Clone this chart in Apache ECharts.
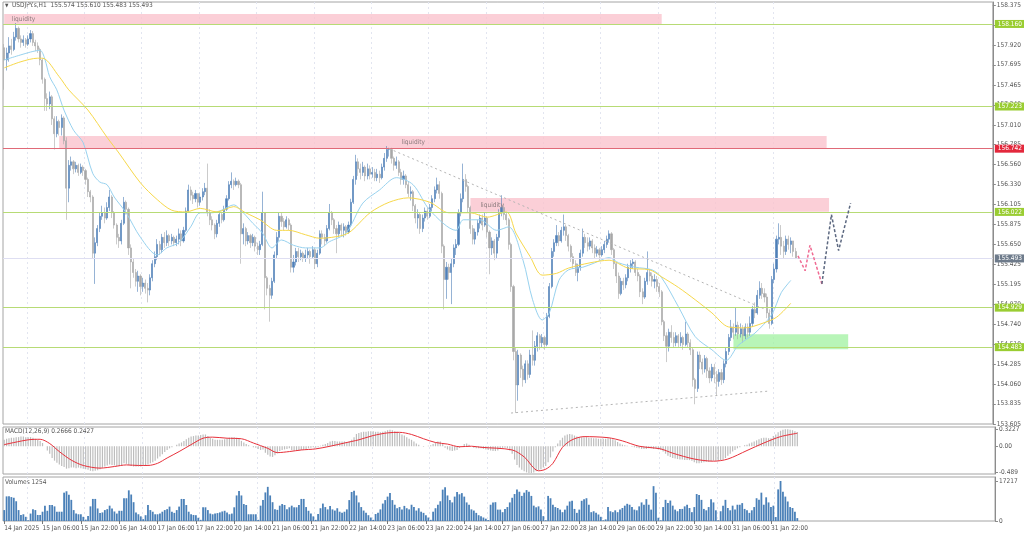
<!DOCTYPE html>
<html><head><meta charset="utf-8">
<script src="https://cdn.jsdelivr.net/npm/echarts@6/dist/echarts.min.js"></script>
<style>html,body{margin:0;padding:0;background:#fff}#c{width:1024px;height:537px}</style>
</head><body><div id="c"></div>
<script>
const timeLabels = ['14 Jan 2025','15 Jan 06:00','15 Jan 22:00','16 Jan 14:00','17 Jan 06:00','17 Jan 22:00','20 Jan 14:00','21 Jan 06:00','21 Jan 22:00','22 Jan 14:00','23 Jan 06:00','23 Jan 22:00','24 Jan 14:00','27 Jan 06:00','27 Jan 22:00','28 Jan 14:00','29 Jan 06:00','29 Jan 22:00','30 Jan 14:00','31 Jan 06:00','31 Jan 22:00'];
const priceTicks = [153.605,153.835,154.060,154.285,154.510,154.740,154.970,155.195,155.425,155.650,155.875,156.105,156.330,156.560,156.785,157.010,157.240,157.465,157.695,157.920,158.150,158.375];
const macdTicks = [0.3227, 0, -0.489];
const macdTickText = ['0.3227','0.00','-0.489'];
const volumeTicks = [0, 17217];

const firstOpen = 157.89;
const closes = [157.75,157.83,157.91,157.87,158.01,158.11,157.99,157.95,157.98,157.93,
157.99,158.05,157.95,157.91,157.87,157.75,157.53,157.31,157.25,157.33,
157.08,156.91,157.05,156.98,157.09,156.83,156.29,156.55,156.59,156.51,
156.55,156.47,156.53,156.49,156.39,156.25,156.19,155.55,155.67,155.83,
155.97,156.01,155.95,156.07,156.19,156.01,155.87,155.73,155.69,155.89,
156.13,156.05,155.61,155.45,155.33,155.23,155.29,155.17,155.21,155.15,
155.13,155.27,155.43,155.51,155.65,155.59,155.73,155.67,155.75,155.69,
155.73,155.67,155.71,155.77,155.69,155.81,156.03,156.27,156.21,156.17,
156.23,156.13,156.19,156.25,156.29,156.01,155.93,155.87,155.77,155.89,
155.99,155.93,156.05,156.17,156.33,156.37,156.33,156.37,156.33,155.77,
155.83,155.69,155.75,155.67,155.73,155.63,155.59,155.65,156.01,155.27,
155.15,155.07,155.23,155.53,155.73,155.97,155.91,155.85,155.93,155.87,
155.39,155.45,155.57,155.51,155.55,155.49,155.53,155.57,155.51,155.59,
155.43,155.55,155.77,155.73,155.69,155.83,156.01,155.93,155.83,155.77,
155.87,155.81,155.85,155.79,155.87,156.13,156.39,156.59,156.51,156.47,
156.53,156.43,156.51,156.45,156.47,156.41,156.45,156.41,156.53,156.63,
156.73,156.73,156.63,156.55,156.59,156.47,156.39,156.43,156.33,156.23,
156.25,156.09,155.95,155.99,155.83,155.95,156.03,155.97,156.07,156.17,
156.27,156.33,156.23,155.63,155.25,155.39,155.33,155.43,155.61,155.65,
156.01,156.17,156.39,156.31,156.07,155.83,155.71,155.79,155.89,155.95,
155.87,155.95,155.79,155.61,155.69,155.55,155.73,156.01,156.07,155.99,
155.93,155.65,155.17,154.43,154.05,154.39,154.23,154.11,154.29,154.17,
154.39,154.33,154.49,154.61,154.53,154.59,154.51,154.83,155.17,155.57,
155.67,155.75,155.69,155.81,155.85,155.75,155.63,155.51,155.43,155.33,
155.39,155.55,155.73,155.67,155.63,155.69,155.61,155.55,155.59,155.53,
155.59,155.65,155.71,155.77,155.59,155.43,155.29,155.09,155.23,155.19,
155.27,155.39,155.43,155.45,155.33,155.29,155.11,155.05,155.23,155.33,
155.29,155.23,155.25,155.17,155.11,154.77,154.61,154.49,154.65,154.59,
154.53,154.61,154.53,154.59,154.51,154.63,154.53,154.45,154.11,154.01,
154.39,154.31,154.23,154.35,154.21,154.13,154.25,154.17,154.09,154.19,
154.11,154.29,154.43,154.59,154.71,154.65,154.73,154.63,154.69,154.61,
154.71,154.65,154.75,154.91,154.87,155.07,155.15,155.09,155.05,154.87,
154.75,155.25,155.37,155.71,155.73,155.63,155.57,155.71,155.65,155.69,
155.57,155.493];
const highs = [157.93,157.89,158.01,157.99,158.07,158.17,158.13,158.03,158.03,158.00,
158.03,158.09,158.08,157.98,157.95,157.89,157.77,157.55,157.37,157.39,
157.35,157.11,157.11,157.07,157.13,157.11,156.87,156.61,156.65,156.61,
156.59,156.57,156.57,156.55,156.51,156.41,156.27,156.21,155.73,155.87,
156.01,156.09,156.07,156.13,156.27,156.21,156.03,155.89,155.77,155.93,
156.19,156.15,156.07,155.65,155.49,155.37,155.35,155.31,155.27,155.25,
155.21,155.31,155.47,155.57,155.71,155.69,155.77,155.79,155.81,155.77,
155.77,155.75,155.75,155.83,155.81,155.85,156.07,156.33,156.31,156.25,
156.27,156.23,156.23,156.29,156.35,156.57,156.05,155.97,155.89,155.93,
156.03,156.01,156.09,156.21,156.37,156.47,156.39,156.41,156.39,156.35,
155.89,155.85,155.79,155.77,155.77,155.75,155.67,155.69,156.25,156.01,
155.29,155.19,155.27,155.57,155.79,156.01,156.01,155.95,155.97,155.95,
155.89,155.53,155.61,155.61,155.59,155.57,155.59,155.61,155.59,155.63,
155.61,155.59,155.81,155.81,155.77,155.87,156.11,156.03,155.95,155.87,
155.91,155.89,155.89,155.87,155.91,156.17,156.43,156.67,156.63,156.57,
156.59,156.55,156.57,156.55,156.53,156.51,156.51,156.49,156.57,156.69,
156.77,156.75,156.75,156.65,156.65,156.61,156.51,156.49,156.45,156.37,
156.31,156.27,156.11,156.05,156.01,155.99,156.07,156.07,156.11,156.21,
156.31,156.41,156.37,156.25,155.65,155.45,155.43,155.49,155.65,155.71,
156.05,156.23,156.57,156.45,156.33,156.09,155.87,155.83,155.93,155.99,
155.99,156.01,155.97,155.81,155.73,155.71,155.77,156.05,156.21,156.11,
156.01,155.95,155.67,155.19,154.47,154.45,154.41,154.27,154.33,154.33,
154.45,154.67,154.55,154.65,154.63,154.63,154.61,154.87,155.21,155.61,
155.71,155.87,155.79,155.85,155.99,155.87,155.77,155.65,155.55,155.47,
155.43,155.59,155.83,155.77,155.73,155.73,155.71,155.65,155.63,155.61,
155.63,155.69,155.75,155.81,155.79,155.61,155.45,155.33,155.27,155.27,
155.31,155.43,155.47,155.49,155.47,155.37,155.31,155.15,155.27,155.57,
155.37,155.33,155.31,155.29,155.21,155.13,154.79,154.65,154.69,154.73,
154.65,154.65,154.63,154.65,154.61,154.77,154.65,154.57,154.47,154.13,
154.43,154.43,154.35,154.39,154.37,154.25,154.29,154.29,154.21,154.23,
154.23,154.33,154.47,154.63,154.79,154.75,154.93,154.77,154.75,154.73,
154.75,154.75,154.83,154.95,154.99,155.13,155.23,155.21,155.15,155.09,
154.91,155.29,155.43,155.75,155.89,155.87,155.69,155.75,155.75,155.73,
155.69,155.61];
const lows = [157.41,157.63,157.73,157.81,157.85,157.97,157.95,157.89,157.91,157.89,
157.91,157.95,157.91,157.85,157.83,157.69,157.48,157.17,157.17,157.19,
157.01,156.73,156.87,156.89,156.89,156.79,155.93,156.13,156.49,156.45,
156.47,156.43,156.45,156.43,156.33,156.19,156.13,155.49,155.20,155.63,
155.79,155.93,155.89,155.93,156.03,155.95,155.83,155.65,155.61,155.65,
155.87,155.99,155.53,155.15,155.27,155.17,155.11,155.07,155.11,155.09,
154.99,155.07,155.23,155.39,155.47,155.53,155.55,155.61,155.63,155.63,
155.65,155.63,155.63,155.65,155.63,155.67,155.79,156.01,156.15,156.11,
156.13,156.07,156.09,156.15,156.21,155.97,155.87,155.81,155.71,155.73,
155.85,155.89,155.91,156.03,156.15,156.29,156.27,156.31,156.29,155.43,
155.65,155.63,155.65,155.61,155.63,155.57,155.53,155.53,155.63,154.91,
155.07,154.77,155.03,155.21,155.49,155.69,155.85,155.81,155.83,155.81,
155.33,155.33,155.41,155.45,155.47,155.45,155.45,155.49,155.43,155.49,
155.37,155.39,155.53,155.65,155.63,155.67,155.81,155.87,155.77,155.55,
155.73,155.75,155.73,155.75,155.77,155.85,156.11,156.33,156.43,156.39,
156.43,156.37,156.39,156.39,156.41,156.37,156.37,156.35,156.39,156.49,
156.59,156.65,156.57,156.49,156.51,156.43,156.33,156.33,156.29,156.19,
156.15,156.03,155.89,155.83,155.77,155.79,155.91,155.93,155.95,156.03,
156.13,156.23,156.17,155.55,154.91,155.03,155.25,154.97,155.39,155.53,
155.63,155.97,156.13,156.25,156.01,155.77,155.65,155.65,155.75,155.83,
155.81,155.85,155.73,155.31,155.53,155.47,155.49,155.69,155.97,155.93,
155.87,155.59,155.11,154.33,153.73,153.87,154.13,154.03,154.07,154.11,
154.13,154.27,154.27,154.43,154.45,154.47,154.45,154.49,154.81,155.15,
155.51,155.63,155.63,155.67,155.75,155.69,155.57,155.45,155.37,155.29,
155.23,155.35,155.51,155.61,155.57,155.59,155.55,155.49,155.51,155.47,
155.51,155.55,155.61,155.67,155.53,155.37,155.21,155.03,155.07,155.13,
155.15,155.23,155.33,155.37,155.29,155.23,155.05,154.97,155.03,155.19,
155.23,155.17,155.15,155.11,155.05,154.73,154.55,154.31,154.43,154.53,
154.47,154.49,154.47,154.49,154.45,154.49,154.47,154.39,154.03,153.83,
153.97,154.23,154.17,154.19,154.13,154.07,154.09,154.07,153.93,154.03,
154.05,154.07,154.25,154.39,154.55,154.57,154.61,154.57,154.59,154.53,
154.57,154.59,154.61,154.71,154.81,154.85,155.03,155.03,154.99,154.81,
154.69,154.73,155.21,155.33,155.65,155.53,155.49,155.53,155.59,155.55,
155.51,155.483];

const volumes = [4700,10600,10600,10300,10000,8500,4700,2600,2900,1800,
300,3200,5100,4700,2600,2600,4000,6600,4400,6900,6900,6300,4000,4000,4000,12200,12800,11300,9100,4700,3200,2900,2900,1800,
600,2200,6300,9500,9500,5400,3400,3700,4700,5100,6600,5400,4100,3200,4400,4400,9800,9800,13200,11400,8100,3700,2900,2000,
800,2500,6900,4700,4000,2900,2900,3200,4000,4700,5100,6200,4000,3500,4700,6200,9500,9500,6900,4000,2900,2600,2500,1400,
500,5900,5900,4700,3200,2900,3200,3400,3700,4100,4400,3700,2900,3200,5900,11000,12900,11000,7300,6900,2900,2900,2900,2900,
500,6600,9000,12300,14700,11000,8100,5100,4800,6600,7300,6900,5100,5900,6600,5900,5900,6900,9500,9500,6000,4400,3200,2000,
500,3000,5500,7500,6000,5000,6500,5000,4500,5500,4000,3500,4000,5000,9000,12500,13000,11000,8000,6000,4500,3500,2500,1500,
500,3000,3500,5000,7500,9000,10500,12000,9000,7000,5500,6000,5000,6500,5500,5000,7000,6000,4500,5500,4000,3500,2500,1500,
500,4000,5500,7000,8500,13500,14500,11000,9000,8000,10500,12500,11500,12000,10500,8000,7000,5000,4500,3500,2500,2000,1500,1000,
400,7000,8000,8100,4900,4900,3800,5200,6000,8000,10000,11600,13600,12600,10800,12200,13300,12600,10800,6600,5900,6300,4900,2100,
300,10800,9800,7000,6000,5600,4900,3800,4900,6600,8400,8700,5200,3500,4900,8700,9400,9800,7000,3800,4200,3500,2800,1800,
300,700,6000,4200,3800,4600,3800,4900,5600,6600,7400,7000,6000,4900,4600,6300,8000,7000,9400,7000,4900,15000,12200,1400,
300,6000,9100,7700,8800,6600,4900,4200,5200,5200,6300,7000,5600,3800,6000,11600,11200,9100,5200,4600,6000,9400,8000,4600,
300,4200,6600,9100,5600,4600,6600,4900,7000,7000,7700,5200,4600,3500,4600,6000,9800,9100,12200,7000,10200,8000,6000,6600,
1700,13600,17217,12600,10500,8400,6000,5600,4000,1254];

const macdMain = [0.12,0.14,0.15,0.16,0.16,
0.17,0.17,0.18,0.18,0.17,0.17,0.17,0.16,
0.14,0.12,0.10,0.06,
0.00,-0.08,-0.14,-0.22,
-0.27,-0.31,-0.34,-0.37,-0.39,-0.42,
-0.41,-0.40,-0.40,-0.41,-0.40,-0.41,-0.42,
-0.43,-0.44,-0.46,-0.47,-0.46,-0.45,-0.43,
-0.40,-0.38,-0.36,-0.34,-0.35,-0.36,-0.37,
-0.37,-0.35,-0.32,-0.33,-0.35,-0.37,-0.38,-0.38,-0.38,-0.38,
-0.37,-0.36,-0.34,-0.32,-0.30,
-0.27,-0.23,-0.19,-0.15,-0.11,-0.07,-0.04,-0.02,
0.00,0.03,0.05,0.07,0.10,0.13,
0.16,0.18,0.19,0.20,0.20,0.21,0.22,0.22,0.19,
0.16,0.14,0.12,0.12,0.12,0.12,0.13,0.14,0.16,0.17,0.17,
0.16,0.15,0.10,0.07,0.04,0.02,0.00,-0.02,
-0.03,-0.05,-0.07,-0.06,-0.12,-0.16,-0.19,-0.20,-0.17,-0.13,-0.09,-0.07,-0.06,-0.05,-0.04,-0.07,-0.08,-0.08,-0.08,-0.07,
-0.06,-0.05,-0.04,-0.03,-0.02,-0.03,-0.02,0.01,0.03,0.04,0.06,
0.09,0.10,0.10,0.09,0.09,0.09,0.09,0.08,0.09,0.12,
0.17,0.23,0.25,0.26,0.27,0.27,0.28,0.28,0.28,0.27,0.27,0.26,0.27,0.28,0.30,
0.31,0.30,0.28,0.27,0.25,0.22,0.20,0.17,0.14,0.12,
0.09,0.05,0.03,0.00,-0.01,0.00,0.01,0.02,0.04,0.07,0.09,0.09,
0.04,-0.03,-0.06,-0.08,-0.09,-0.08,-0.07,-0.03,
0.00,0.04,0.05,0.03,0.00,-0.03,-0.04,-0.04,
-0.04,-0.05,-0.06,-0.07,-0.08,-0.09,-0.09,-0.08,-0.05,-0.03,-0.03,-0.04,
-0.08,-0.14,-0.25,-0.35,-0.40,
-0.44,-0.47,-0.49,-0.50,-0.50,-0.49,-0.47,
-0.45,-0.43,-0.40,-0.37,-0.30,-0.21,-0.10,
-0.02,0.05,0.11,0.16,0.20,0.22,
0.23,0.22,0.20,0.18,0.17,
0.17,0.17,0.17,0.16,0.16,0.15,0.15,0.14,0.14,0.14,0.14,0.15,0.15,0.13,0.11,
0.08,0.05,0.03,0.02,0.01,0.00,-0.01,
-0.02,-0.03,-0.04,-0.05,-0.05,-0.05,-0.04,-0.04,-0.05,-0.05,-0.06,-0.07,-0.10,
-0.14,-0.18,-0.20,-0.22,-0.23,-0.24,-0.25,-0.25,-0.26,-0.26,-0.26,-0.27,
-0.30,-0.32,-0.32,-0.31,-0.30,-0.29,-0.29,-0.28,-0.27,-0.27,-0.27,-0.26,-0.25,
-0.22,-0.18,-0.14,-0.10,-0.07,-0.04,-0.02,0.00,
0.02,0.03,0.05,0.07,0.09,0.11,0.13,0.15,0.16,0.16,0.15,0.15,
0.19,0.22,0.26,0.29,0.31,0.32,0.32,0.31,0.30,0.28,0.2666];

const macdSignal = [[0,0.03],[10,0.12],[15,0.13],[19,0.05],[23,-0.10],[28,-0.26],[33,-0.36],[40,-0.41],[46,-0.38],[51,-0.35],[56,-0.36],[60,-0.36],[64,-0.32],[68,-0.22],[73,-0.10],[78,0.03],[83,0.15],[87,0.17],[93,0.15],[99,0.14],[104,0.06],[110,-0.04],[114,-0.12],[119,-0.10],[124,-0.07],[130,-0.05],[136,0.00],[142,0.06],[148,0.12],[154,0.20],[160,0.25],[165,0.26],[170,0.22],[175,0.14],[180,0.07],[185,0.04],[190,-0.01],[195,0.00],[199,-0.02],[212,-0.07],[217,-0.20],[223,-0.46],[226,-0.43],[229,-0.32],[233,-0.02],[237,0.12],[242,0.18],[252,0.16],[258,0.10],[265,0.00],[274,-0.05],[279,-0.13],[288,-0.24],[296,-0.28],[302,-0.24],[310,-0.08],[317,0.06],[324,0.18],[331,0.2427]];

const maFast = [[0,157.75],[11,157.84],[15,157.86],[17,157.76],[19,157.56],[22,157.41],[25,157.18],[29,156.95],[33,156.81],[37,156.46],[40,156.36],[43,156.33],[46,156.19],[51,156.01],[57,155.73],[64,155.53],[68,155.61],[73,155.67],[78,155.85],[82,156.01],[87,156.01],[91,156.04],[96,156.10],[100,156.01],[104,155.89],[108,155.78],[112,155.61],[116,155.70],[121,155.64],[126,155.61],[132,155.61],[136,155.68],[143,155.78],[150,156.12],[157,156.27],[164,156.41],[171,156.33],[178,156.04],[189,155.81],[192,155.93],[199,155.93],[206,155.81],[211,155.85],[217,155.47],[221,155.02],[225,154.79],[228,154.87],[232,155.24],[236,155.36],[242,155.39],[247,155.44],[253,155.50],[257,155.44],[264,155.39],[271,155.36],[275,155.27],[282,154.94],[289,154.60],[296,154.45],[302,154.33],[307,154.50],[314,154.64],[321,154.85],[325,155.10],[329,155.24]];
const maSlow = [[0,157.66],[7,157.73],[14,157.77],[16,157.77],[23,157.56],[27,157.41],[35,157.18],[43,156.87],[48,156.69],[57,156.35],[64,156.16],[70,156.04],[76,156.02],[82,156.06],[89,156.02],[96,156.08],[101,156.01],[107,155.93],[114,155.81],[119,155.81],[126,155.76],[132,155.72],[137,155.73],[144,155.78],[153,156.01],[161,156.13],[169,156.18],[178,156.13],[186,156.01],[195,156.01],[202,155.96],[210,156.02],[214,155.78],[220,155.51],[225,155.30],[231,155.32],[236,155.38],[245,155.44],[253,155.47],[261,155.38],[270,155.36],[275,155.28],[282,155.16],[289,155.02],[296,154.87],[303,154.71],[310,154.70],[317,154.75],[323,154.82],[329,154.98]];

const levelPrices = [158.160, 157.223, 156.742, 156.022, 154.929, 154.483];
const redLevel = 156.742;
const lastPrice = 155.493;
// zones: [startBar, endBar, lowPrice, highPrice]
const liquidityZones = [[-0.5,275,158.160,158.274],[23,344,156.742,156.884],[195,345,156.022,156.178]];
const liquidityLabelAt = [[3.3,158.217],[165.6,156.813],[199.4,156.100]];
const buyZone = [305,353,154.455,154.626];
const trendDown = [[161,156.74],[320.6,154.88]];
const trendUp = [[212.4,153.73],[319.8,153.98]];
const pathPink = [[332.3,155.52],[334.8,155.35],[336.9,155.64],[341.5,155.20]];
const pathSlate = [[341.5,155.20],[345.6,155.99],[349.4,155.58],[353.9,156.12]];

const N = 414;
const cats = Array.from({length:N},(_,i)=>String(i));
const candleData = closes.map((c,i)=>[i===0?firstOpen:closes[i-1], c, lows[i], highs[i]]);
const isDay = (i)=> i>=10 && (i-10)%24===0 && i<=322;
const isLab = (i)=> i%16===0 && i/16 < timeLabels.length;
const FONT = "'Liberation Sans Narrow','DejaVu Sans Condensed','Liberation Sans',sans-serif";
const txt = {fontSize:6.5, color:'#555', fontFamily:FONT};

const GREEN='#b7db75', GREENBOX='#9acd32';
function lvl(p){
  const red = p===redLevel;
  return {yAxis:p, lineStyle:{color: red?'#e06a78':GREEN, width:1.1, type:'solid'},
    label:{show:true, position:'end', distance:2, formatter:p.toFixed(3), color:'#fff',
      backgroundColor: red?'#e3283c':GREENBOX, padding:[1,3,0,3], fontSize:6.5, fontFamily:FONT}};
}

const chart = echarts.init(document.getElementById('c'));
const grids = [
  {left:3,right:29,top:2,height:422},
  {left:3,right:29,top:427,height:47},
  {left:3,right:29,top:477,height:44}
].map(g=>Object.assign(g,{show:true,borderColor:'#a4a4a4',borderWidth:1,backgroundColor:'#fff'}));

const option = {
  animation:false,
  backgroundColor:'#fff',
  grid:grids,
  xAxis:[0,1,2].map(g=>({
    type:'category', gridIndex:g, data:cats, boundaryGap:true,
    axisLine:{show:false},
    axisTick:{show:g===2, interval:(i)=>isLab(i), alignWithLabel:true, length:3, lineStyle:{color:'#777'}},
    axisLabel:{show:g===2, interval:(i)=>isLab(i), formatter:(v,i)=>timeLabels[i/16]||'', align:'left', margin:4, ...txt},
    splitLine:{show:true, interval:(i)=>isDay(i), lineStyle:{color:'#e2e5f0', type:[2,3], width:1}}
  })),
  yAxis:[
    {type:'value', gridIndex:0, position:'right', min:153.605, max:158.41,
     axisLine:{show:true,lineStyle:{color:'#8c8c8c'}},
     axisTick:{show:true,length:3,customValues:priceTicks,lineStyle:{color:'#8c8c8c'}},
     axisLabel:{customValues:priceTicks, formatter:(v)=>v.toFixed(3), margin:4, ...txt},
     splitLine:{show:false}},
    {type:'value', gridIndex:1, position:'right', min:-0.52, max:0.36,
     axisLine:{show:true,lineStyle:{color:'#8c8c8c'}},
     axisTick:{show:true,length:3,customValues:macdTicks,lineStyle:{color:'#8c8c8c'}},
     axisLabel:{customValues:macdTicks, formatter:(v)=>macdTickText[macdTicks.indexOf(v)] ?? String(v), margin:4, ...txt},
     splitLine:{show:false}},
    {type:'value', gridIndex:2, position:'right', min:0, max:18939,
     axisLine:{show:true,lineStyle:{color:'#8c8c8c'}},
     axisTick:{show:true,length:3,customValues:volumeTicks,lineStyle:{color:'#8c8c8c'}},
     axisLabel:{customValues:volumeTicks, formatter:(v)=>String(v), margin:4, ...txt},
     splitLine:{show:false}}
  ],
  series:[
    {type:'line', name:'zones', xAxisIndex:0, yAxisIndex:0, data:[], z:1, silent:true,
     markArea:{silent:true, data: liquidityZones.map(z=>[
        {xAxis:z[0], yAxis:z[3], itemStyle:{color:'rgba(250,195,205,0.8)'}},
        {xAxis:z[1], yAxis:z[2]}]).concat([[
        {xAxis:buyZone[0], yAxis:buyZone[3], itemStyle:{color:'rgba(160,242,160,0.75)'}},
        {xAxis:buyZone[1], yAxis:buyZone[2]}]])},
     markPoint:{silent:true, symbol:'circle', symbolSize:1, itemStyle:{color:'rgba(0,0,0,0)'},
       label:{show:true, position:'right', distance:0, formatter:'liquidity', color:'#8a7a7c', fontSize:6.5, fontFamily:FONT},
       data: liquidityLabelAt.map(p=>({coord:p}))}
    },
    {type:'candlestick', name:'USDJPY', xAxisIndex:0, yAxisIndex:0, data:candleData, barWidth:1.6, z:3,
     itemStyle:{color:'#4f80b8', color0:'#a8a8a8', borderColor:'#4f80b8', borderColor0:'#a8a8a8', borderWidth:0.6}},
    {type:'line', name:'MA fast', xAxisIndex:0, yAxisIndex:0, data:maFast, showSymbol:false, smooth:0.3, z:4,
     lineStyle:{color:'#98d2ef', width:1}},
    {type:'line', name:'MA slow', xAxisIndex:0, yAxisIndex:0, data:maSlow, showSymbol:false, smooth:0.3, z:4,
     lineStyle:{color:'#f7d84a', width:1}},
    {type:'line', name:'levels', xAxisIndex:0, yAxisIndex:0, data:[], z:5, silent:true,
     markLine:{silent:true, symbol:['none','none'], animation:false,
       data: levelPrices.map(lvl).concat([
         {yAxis:lastPrice, lineStyle:{color:'#dedef2', width:1, type:'solid'},
          label:{show:true, position:'end', distance:2, formatter:lastPrice.toFixed(3), color:'#fff', backgroundColor:'#6e7b8b', padding:[1,3,0,3], fontSize:6.5, fontFamily:FONT}},
         [{coord:trendDown[0], lineStyle:{color:'#b4b4b4', width:1, type:[2,3]}, label:{show:false}},{coord:trendDown[1]}],
         [{coord:trendUp[0], lineStyle:{color:'#b4b4b4', width:1, type:[2,3]}, label:{show:false}},{coord:trendUp[1]}]
       ])}
    },
    {type:'line', name:'path1', xAxisIndex:0, yAxisIndex:0, data:pathPink, showSymbol:false, z:6,
     lineStyle:{color:'#f06b93', width:1.5, type:[3,2]}},
    {type:'line', name:'path2', xAxisIndex:0, yAxisIndex:0, data:pathSlate, showSymbol:false, z:6,
     lineStyle:{color:'#5c6880', width:1.5, type:[3,2]}},
    {type:'bar', name:'MACD', xAxisIndex:1, yAxisIndex:1, data:macdMain, barWidth:1.2, z:2,
     itemStyle:{color:'#bdbdbd'}},
    {type:'line', name:'Signal', xAxisIndex:1, yAxisIndex:1, data:macdSignal, showSymbol:false, smooth:0.3, z:3,
     lineStyle:{color:'#e8303a', width:1}},
    {type:'bar', name:'Volumes', xAxisIndex:2, yAxisIndex:2, data:volumes, barWidth:1.8, z:2,
     itemStyle:{color:'#4a80b8'}}
  ],
  graphic:[
    {type:'text', left:5, top:3, style:{text:'▼', font:'5px '+FONT, fill:'#555'}},
    {type:'text', left:12, top:2, style:{text:'USDJPY.s,H1  155.574 155.610 155.483 155.493', font:'6.5px '+FONT, fill:'#555'}},
    {type:'text', left:5, top:428, style:{text:'MACD(12,26,9) 0.2666 0.2427', font:'6.5px '+FONT, fill:'#555'}},
    {type:'text', left:5, top:479, style:{text:'Volumes 1254', font:'6.5px '+FONT, fill:'#555'}}
  ]
};
chart.setOption(option);
</script></body></html>
